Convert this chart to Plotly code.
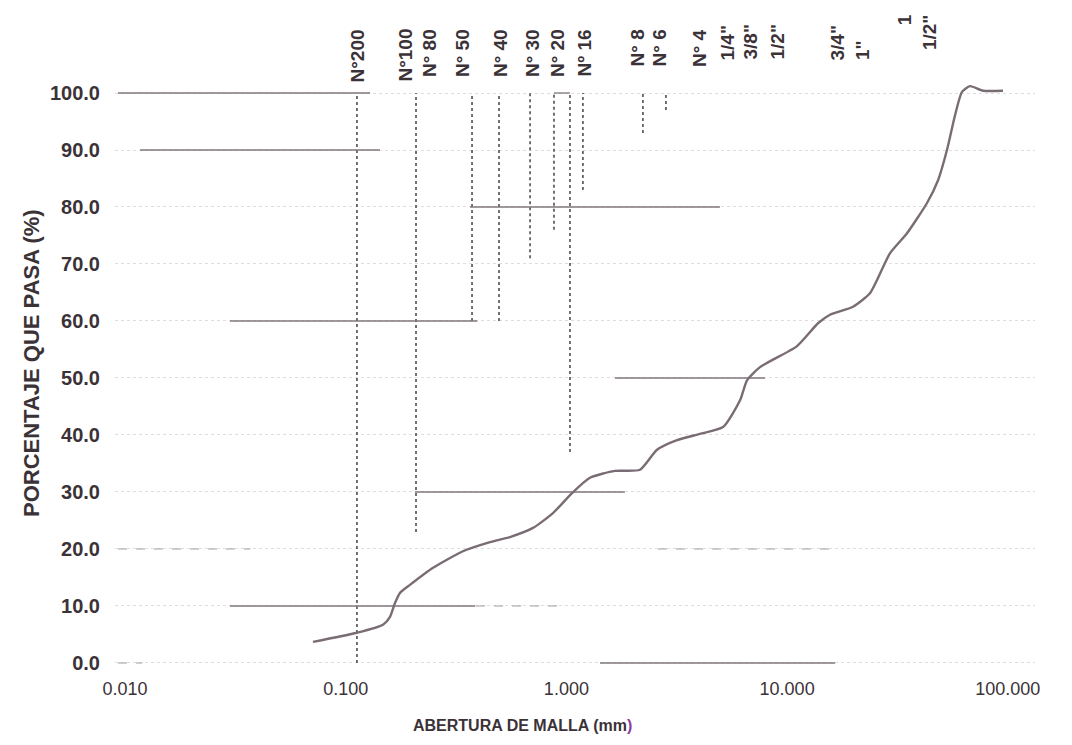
import numpy as np
import plotly.graph_objects as go

# ---- grading curve ----
abertura_mm = [0.0711, 0.1125, 0.1476, 0.1588, 0.1672, 0.1762, 0.1955, 0.2488, 0.3398,
               0.4508, 0.5550, 0.7059, 0.8694, 1.060, 1.279, 1.660, 2.154, 2.574, 3.170,
               4.030, 5.124, 6.120, 6.583, 7.537, 11.09, 13.80, 15.64, 19.89, 23.77,
               29.26, 34.93, 43.03, 48.28, 52.98, 57.64, 61.99, 67.40, 77.24, 95.1]
pct_pasa = [3.7, 5.3, 6.7, 8.1, 10.5, 12.3, 13.7, 16.7, 19.6,
            21.2, 22.1, 23.7, 26.3, 29.8, 32.5, 33.7, 33.9, 37.4, 39.1,
            40.2, 41.4, 46.1, 49.6, 51.9, 55.6, 59.6, 61.1, 62.5, 64.9,
            71.9, 75.4, 80.7, 84.7, 90.0, 96.1, 100.2, 101.2, 100.4, 100.4]

# ---- sieve labels along the top ----
tamiz_label = ["N°200", "N°100", "N° 80", "N° 50", "N° 40", "N° 30", "N° 20", "Nº 16",
               "N° 8", "N° 6", "N° 4", '1/4"', '3/8"', '1/2"', '3/4"', '1"', '1<br>1/2"']
tamiz_pos = [0.1137, 0.1858, 0.2411, 0.3401, 0.5058, 0.7063, 0.9163, 1.214,
             2.109, 2.652, 4.030, 5.396, 6.791, 9.00, 17.0, 21.85, 38.8]
tamiz_grupo = ["top"] * 11 + ["bottom"] * 5 + ["high"]

# ---- vertical dotted lines (x, y from, y to) ----
vline_x = [0.1125, 0.2083, 0.3737, 0.4951, 0.6846, 0.8785, 1.038, 1.188, 2.222, 2.825]
vline_y0 = [0, 23, 60, 60, 71, 76, 37, 83, 93, 97]
vline_y1 = [100, 100, 100, 100, 100, 100, 100, 100, 100, 100]

# ---- darker horizontal segments (level, x from, x to) ----
hseg_y = [100, 90, 60, 80, 50, 30, 10, 0, 100]
hseg_x0 = [0.0093, 0.0117, 0.0299, 0.366, 1.66, 0.206, 0.0299, 1.42, 0.8785]
hseg_x1 = [0.129, 0.143, 0.395, 4.96, 7.94, 1.84, 0.386, 16.5, 1.038]

# ---- faint dashed horizontal segments (level, x from, x to) ----
dseg_y = [20, 0, 20, 10]
dseg_x0 = [0.0093, 0.0093, 2.6, 0.39]
dseg_x1 = [0.0370, 0.0120, 17.0, 0.95]

# ---- axes ----
x_ticks = [0.01, 0.1, 1, 10, 100]
x_ticktext = ["0.010", "0.100", "1.000", "10.000", "100.000"]
y_ticks = list(range(0, 101, 10))
y_ticktext = [f"{v:.1f}" for v in y_ticks]

TXT = "#3b3238"
FONT = "Liberation Sans, Arial, sans-serif"

# page layout (page has an 8px body margin)
PAGE_OFF = 8
PLOT_L, PLOT_R, PLOT_T, PLOT_B = 115, 1035, 80, 670
PW, PH = PLOT_R - PLOT_L, PLOT_B - PLOT_T
FIG_W, FIG_H = 1072 - PAGE_OFF, 745 - PAGE_OFF


def px_x(px):
    return (px - PLOT_L) / PW


def px_y(py):
    return (PLOT_B - py) / PH


fig = go.Figure()

# vertical dotted lines
vx, vy = [], []
for x, a, b in zip(vline_x, vline_y0, vline_y1):
    vx += [x, x, None]
    vy += [a, b, None]
fig.add_trace(go.Scatter(x=vx, y=vy, mode="lines",
                         line=dict(color="#5f565b", width=1.7, dash="dot"),
                         hoverinfo="skip", showlegend=False))

# horizontal darker segments
hx, hy = [], []
for y, a, b in zip(hseg_y, hseg_x0, hseg_x1):
    hx += [a, b, None]
    hy += [y, y, None]
fig.add_trace(go.Scatter(x=hx, y=hy, mode="lines",
                         line=dict(color="#7f767b", width=1.3),
                         hoverinfo="skip", showlegend=False))

# faint dashed segments
dx, dy = [], []
for y, a, b in zip(dseg_y, dseg_x0, dseg_x1):
    dx += [a, b, None]
    dy += [y, y, None]
fig.add_trace(go.Scatter(x=dx, y=dy, mode="lines",
                         line=dict(color="#a59da1", width=1.2, dash="dash"),
                         hoverinfo="skip", showlegend=False))

# grading curve
fig.add_trace(go.Scatter(x=abertura_mm, y=pct_pasa, mode="lines",
                         line=dict(color="#7a6c74", width=2.4, shape="spline", smoothing=0.6),
                         showlegend=False))

# top sieve labels
anchor_cfg = {"top": (27, "top"), "bottom": (62, "bottom"), "high": (52, "bottom")}
for lab, pos, grp in zip(tamiz_label, tamiz_pos, tamiz_grupo):
    py, ya = anchor_cfg[grp]
    fig.add_annotation(x=np.log10(pos), y=px_y(py), xref="x", yref="paper",
                       text=lab, textangle=-90, showarrow=False, yanchor=ya,
                       xanchor="center", align="right",
                       font=dict(family=FONT, size=19, color=TXT, weight="bold"))

# axis titles
fig.add_annotation(x=px_x(31), y=px_y(363), xref="paper", yref="paper",
                   text="PORCENTAJE QUE PASA (%)", textangle=-90, showarrow=False,
                   xanchor="center", yanchor="middle",
                   font=dict(family=FONT, size=22, color=TXT, weight="bold"))
fig.add_annotation(x=px_x(522), y=px_y(725), xref="paper", yref="paper",
                   text='ABERTURA DE MALLA (mm<span style="color:#8e3a9e">)</span>',
                   showarrow=False, xanchor="center", yanchor="middle",
                   font=dict(family=FONT, size=16, color=TXT, weight="bold"))

fig.update_xaxes(type="log", range=[-2.045, 2.123], tickvals=x_ticks, ticktext=x_ticktext,
                 showgrid=False, zeroline=False, showline=False, ticks="",
                 ticklabelstandoff=6,
                 tickfont=dict(family=FONT, size=18, color=TXT))
fig.update_yaxes(range=[-1.23, 102.28], tickvals=y_ticks, ticktext=y_ticktext,
                 showgrid=True, gridcolor="#dedede", griddash="dot", gridwidth=1,
                 zeroline=False, showline=False, ticks="", ticklabelstandoff=14,
                 tickfont=dict(family=FONT, size=20, color=TXT, weight="bold"))

fig.update_layout(width=FIG_W, height=FIG_H,
                  margin=dict(l=PLOT_L - PAGE_OFF, r=FIG_W - (PLOT_R - PAGE_OFF),
                              t=PLOT_T - PAGE_OFF, b=FIG_H - (PLOT_B - PAGE_OFF)),
                  paper_bgcolor="white", plot_bgcolor="white", showlegend=False)

fig.write_html("out.html")
